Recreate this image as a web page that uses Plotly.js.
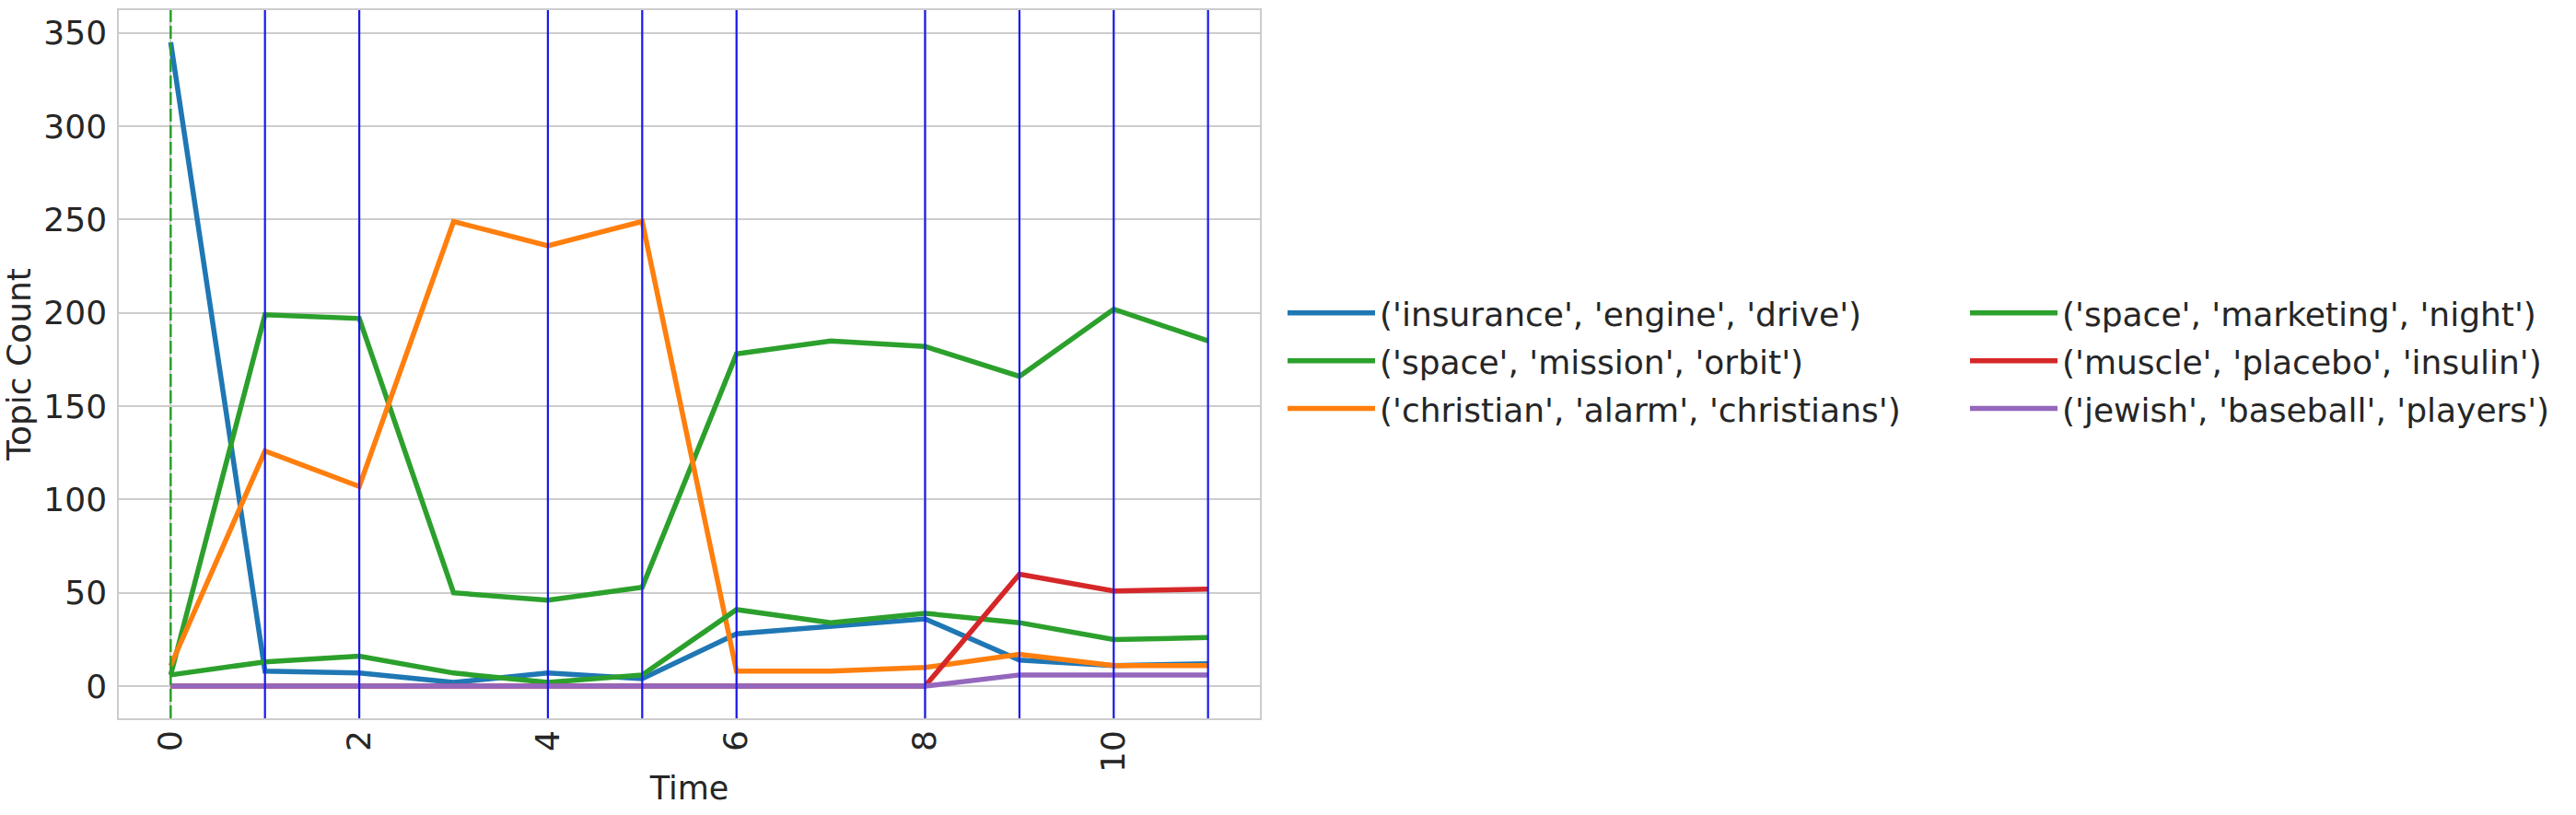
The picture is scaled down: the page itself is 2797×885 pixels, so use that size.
<!DOCTYPE html>
<html>
<head>
<meta charset="utf-8">
<script src="https://cdn.plot.ly/plotly-3.0.1.min.js"></script>
<style>
  html, body { margin: 0; padding: 0; background: #ffffff; }
  #chart { width: 2797px; height: 885px; }
</style>
</head>
<body>
<div id="chart"></div>
<script>
// ---- data ----
const timeSteps = [0, 1, 2, 3, 4, 5, 6, 7, 8, 9, 10, 11];

const insuranceEngineDrive   = [345, 8, 7, 2, 7, 4, 28, 32, 36, 14, 11, 12];
const spaceMissionOrbit      = [6, 199, 197, 50, 46, 53, 178, 185, 182, 166, 202, 185];
const christianAlarm         = [11, 126, 107, 249, 236, 249, 8, 8, 10, 17, 11, 11];
const spaceMarketingNight    = [6, 13, 16, 7, 2, 6, 41, 34, 39, 34, 25, 26];
const musclePlaceboInsulin   = [0, 0, 0, 0, 0, 0, 0, 0, 0, 60, 51, 52];
const jewishBaseballPlayers  = [0, 0, 0, 0, 0, 0, 0, 0, 0, 6, 6, 6];

const seriesNames = [
  "('insurance', 'engine', 'drive')",
  "('space', 'mission', 'orbit')",
  "('christian', 'alarm', 'christians')",
  "('space', 'marketing', 'night')",
  "('muscle', 'placebo', 'insulin')",
  "('jewish', 'baseball', 'players')"
];

const greenMarkers = [0];
const blueMarkers = [1, 2, 4, 5, 6, 8, 9, 10, 11];

const xTickVals = [0, 2, 4, 6, 8, 10];
const yTickVals = [0, 50, 100, 150, 200, 250, 300, 350];

// ---- styles ----
const colors = ['#1f77b4', '#2ca02c', '#ff7f0e', '#2ca02c', '#d62728', '#9467bd'];
const legendIds = ['legend', 'legend', 'legend', 'legend2', 'legend2', 'legend2'];
const seriesValues = [insuranceEngineDrive, spaceMissionOrbit, christianAlarm,
                      spaceMarketingNight, musclePlaceboInsulin, jewishBaseballPlayers];

const textColor = '#262626';
const fontFamily = '"DejaVu Sans", "Liberation Sans", sans-serif';

const traces = seriesValues.map((vals, i) => ({
  type: 'scatter',
  mode: 'lines',
  x: timeSteps,
  y: vals,
  name: seriesNames[i],
  legend: legendIds[i],
  legendgroup: 'g' + i,
  line: { color: colors[i], width: 5.5 },
  hoverinfo: 'x+y+name'
}));

const shapes = [];
greenMarkers.forEach(t => shapes.push({
  type: 'line', xref: 'x', yref: 'paper', x0: t, x1: t, y0: 0, y1: 1,
  layer: 'above',
  line: { color: '#2ca02c', width: 2.5, dash: '14px,4px' }
}));
blueMarkers.forEach(t => shapes.push({
  type: 'line', xref: 'x', yref: 'paper', x0: t, x1: t, y0: 0, y1: 1,
  layer: 'above',
  line: { color: 'rgb(25,25,235)', width: 2.2 }
}));

const plotLeft = 129, plotRight = 1368, plotTop = 11, plotBottom = 780;
const W = 2797, H = 885;

const legendCommon = {
  xanchor: 'left',
  y: 0.5046,
  yanchor: 'middle',
  orientation: 'v',
  traceorder: 'grouped',
  bgcolor: 'rgba(255,255,255,0)',
  borderwidth: 0,
  itemwidth: 95,
  tracegroupgap: 2,
  font: { size: 36, color: textColor, family: fontFamily }
};

const layout = {
  width: W,
  height: H,
  margin: { l: plotLeft, r: W - plotRight, t: plotTop, b: H - plotBottom, pad: 0, autoexpand: false },
  paper_bgcolor: '#ffffff',
  plot_bgcolor: '#ffffff',
  font: { family: fontFamily, color: textColor, size: 36 },
  showlegend: true,
  xaxis: {
    range: [-0.55, 11.55],
    tickmode: 'array',
    tickvals: xTickVals,
    ticktext: xTickVals.map(String),
    tickangle: -90,
    tickfont: { size: 36, color: textColor },
    ticks: '',
    ticklabelstandoff: -3,
    showgrid: true,
    gridcolor: '#cccccc',
    gridwidth: 1.5,
    zeroline: false,
    showline: true,
    linecolor: '#cccccc',
    linewidth: 1.5,
    mirror: true,
    automargin: true,
    title: { text: 'Time', font: { size: 35, color: textColor }, standoff: 6 }
  },
  yaxis: {
    range: [-17.25, 362.25],
    tickmode: 'array',
    tickvals: yTickVals,
    ticktext: yTickVals.map(String),
    tickfont: { size: 36, color: textColor },
    ticks: '',
    ticklabelstandoff: 4,
    showgrid: true,
    gridcolor: '#cccccc',
    gridwidth: 1.5,
    zeroline: false,
    showline: true,
    linecolor: '#cccccc',
    linewidth: 1.5,
    mirror: true,
    automargin: true,
    title: { text: 'Topic Count', font: { size: 36, color: textColor }, standoff: 8 }
  },
  legend: Object.assign({ x: (1393 - plotLeft) / (plotRight - plotLeft) }, legendCommon),
  legend2: Object.assign({ x: (2134 - plotLeft) / (plotRight - plotLeft) }, legendCommon),
  shapes: shapes
};

Plotly.newPlot('chart', traces, layout, { displayModeBar: false });
</script>
</body>
</html>
